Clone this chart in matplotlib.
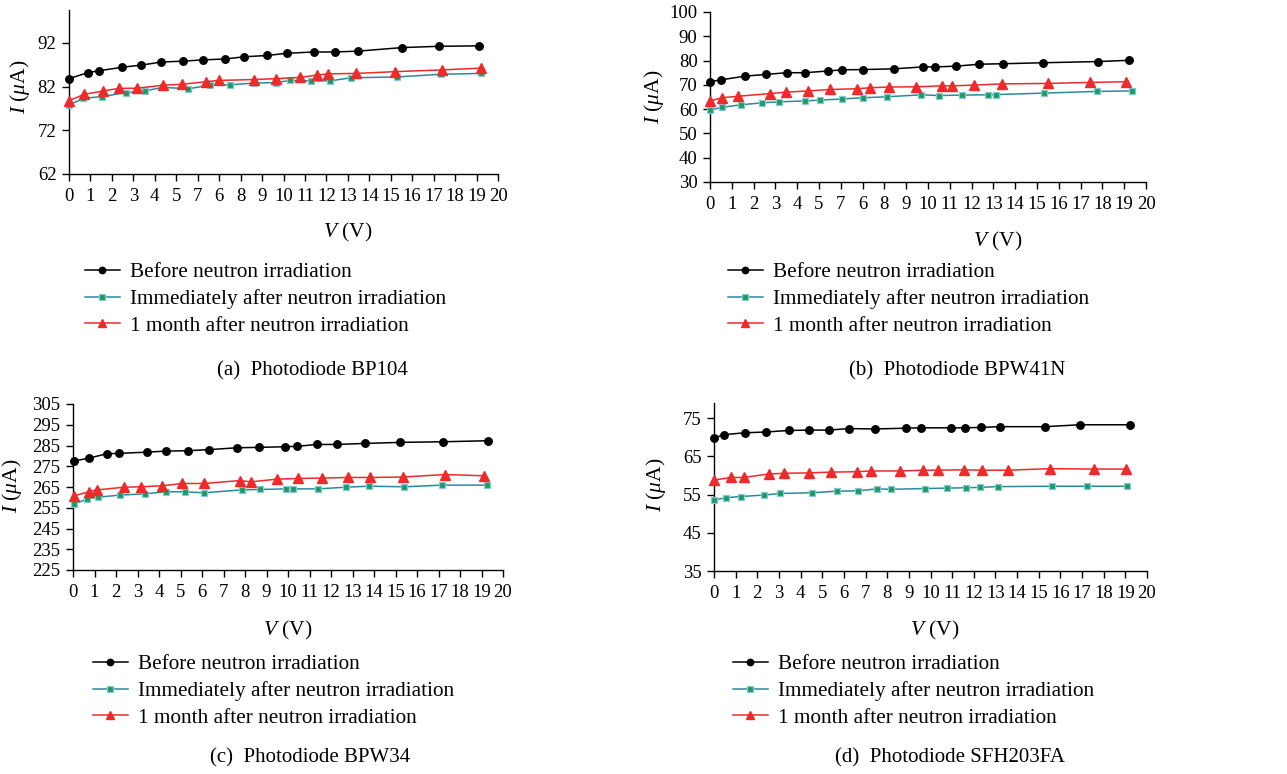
import matplotlib.pyplot as plt
from matplotlib.lines import Line2D

plt.rcParams['font.family'] = ['Liberation Serif', 'DejaVu Serif']
plt.rcParams['mathtext.fontset'] = 'custom'
plt.rcParams['mathtext.rm'] = 'Liberation Serif'
plt.rcParams['mathtext.it'] = 'Liberation Serif:italic'

# ---- data ----
series_names = ["Before neutron irradiation",
                "Immediately after neutron irradiation",
                "1 month after neutron irradiation"]

# (a) BP104
bp104_v_before = [0, 0.89, 1.40, 2.46, 3.37, 4.30, 5.30, 6.26, 7.29, 8.16, 9.23, 10.15, 11.41, 12.40, 13.49, 15.51, 17.23, 19.10]
bp104_i_before = [83.8, 85.2, 85.6, 86.4, 86.9, 87.6, 87.8, 88.1, 88.3, 88.8, 89.1, 89.6, 89.9, 89.9, 90.1, 90.9, 91.2, 91.3]
bp104_v_after = [0.02, 0.67, 1.54, 2.64, 3.53, 4.37, 5.56, 6.57, 7.51, 8.64, 9.65, 10.31, 11.27, 12.17, 13.15, 15.3, 17.33, 19.21]
bp104_i_after = [77.8, 79.3, 79.7, 80.6, 81.0, 81.8, 81.5, 82.3, 82.4, 82.8, 82.9, 83.4, 83.3, 83.3, 84.0, 84.2, 84.8, 85.0]
bp104_v_month = [0.02, 0.70, 1.60, 2.35, 3.17, 4.37, 5.25, 6.37, 6.99, 8.63, 9.65, 10.77, 11.54, 12.07, 13.38, 15.2, 17.37, 19.19]
bp104_i_month = [78.8, 80.2, 81.0, 81.6, 81.6, 82.3, 82.5, 83.1, 83.4, 83.6, 83.8, 84.1, 84.6, 84.9, 85.0, 85.4, 85.8, 86.2]

# (b) BPW41N
bpw41n_v_before = [0, 0.52, 1.62, 2.57, 3.52, 4.36, 5.40, 6.07, 7.02, 8.43, 9.79, 10.34, 11.29, 12.35, 13.46, 15.27, 17.81, 19.2]
bpw41n_i_before = [71.3, 72.1, 73.6, 74.3, 75.0, 75.0, 75.7, 76.2, 76.3, 76.6, 77.4, 77.4, 77.7, 78.5, 78.7, 79.1, 79.6, 80.1]
bpw41n_v_after = [0, 0.57, 1.44, 2.37, 3.18, 4.36, 5.05, 6.07, 7.04, 8.13, 9.69, 10.5, 11.55, 12.75, 13.13, 15.3, 17.76, 19.34]
bpw41n_i_after = [59.6, 60.8, 61.8, 62.6, 63.0, 63.4, 63.7, 64.2, 64.7, 65.1, 65.9, 65.6, 65.8, 65.9, 66.0, 66.6, 67.3, 67.5]
bpw41n_v_month = [0, 0.57, 1.28, 2.74, 3.49, 4.51, 5.52, 6.76, 7.34, 8.20, 9.47, 10.63, 11.12, 12.11, 13.41, 15.49, 17.44, 19.1]
bpw41n_i_month = [63.4, 64.7, 65.3, 66.4, 67.0, 67.5, 68.1, 68.4, 68.8, 69.1, 69.2, 69.6, 69.6, 69.9, 70.4, 70.6, 71.0, 71.3]

# (c) BPW34
bpw34_v_before = [0.03, 0.73, 1.57, 2.12, 3.43, 4.33, 5.37, 6.31, 7.62, 8.64, 9.88, 10.41, 11.34, 12.29, 13.58, 15.22, 17.21, 19.29]
bpw34_i_before = [277.5, 278.9, 281.0, 281.2, 281.8, 282.3, 282.5, 283.0, 283.9, 284.1, 284.4, 284.6, 285.5, 285.5, 286.0, 286.5, 286.8, 287.3]
bpw34_v_after = [0.03, 0.67, 1.15, 2.19, 3.34, 4.32, 5.21, 6.07, 7.84, 8.72, 9.91, 10.21, 11.4, 12.69, 13.76, 15.4, 17.17, 19.27]
bpw34_i_after = [256.7, 259.3, 260.1, 261.1, 261.7, 262.7, 262.7, 262.2, 263.6, 263.8, 264.1, 264.1, 264.1, 264.9, 265.4, 265.1, 265.9, 265.9]
bpw34_v_month = [0.03, 0.73, 1.11, 2.38, 3.17, 4.16, 5.09, 6.11, 7.76, 8.27, 9.50, 10.46, 11.59, 12.80, 13.81, 15.33, 17.30, 19.13]
bpw34_i_month = [260.7, 262.7, 263.6, 264.9, 265.1, 265.6, 266.7, 266.7, 268.1, 267.5, 268.8, 269.1, 269.3, 269.6, 269.6, 269.8, 271.0, 270.4]

# (d) SFH203FA
sfh_v_before = [0, 0.45, 1.42, 2.38, 3.45, 4.37, 5.29, 6.22, 7.45, 8.85, 9.58, 10.94, 11.58, 12.31, 13.2, 15.31, 16.89, 19.2]
sfh_i_before = [69.8, 70.7, 71.2, 71.4, 71.8, 71.9, 71.9, 72.3, 72.2, 72.4, 72.5, 72.5, 72.5, 72.6, 72.8, 72.8, 73.3, 73.3]
sfh_v_after = [0, 0.57, 1.23, 2.32, 3.06, 4.54, 5.66, 6.65, 7.51, 8.18, 9.74, 10.74, 11.62, 12.28, 13.12, 15.6, 17.23, 19.08]
sfh_i_after = [53.6, 54.2, 54.5, 54.9, 55.3, 55.5, 55.9, 56.0, 56.5, 56.4, 56.6, 56.7, 56.8, 56.9, 57.1, 57.2, 57.2, 57.2]
sfh_v_month = [0, 0.77, 1.37, 2.52, 3.25, 4.38, 5.40, 6.6, 7.26, 8.6, 9.66, 10.35, 11.55, 12.37, 13.57, 15.51, 17.55, 19.05]
sfh_i_month = [58.8, 59.5, 59.5, 60.4, 60.6, 60.7, 60.9, 61.0, 61.2, 61.2, 61.4, 61.4, 61.5, 61.4, 61.4, 61.8, 61.7, 61.7]

# tick labels (panels a and b print 7 before 6 in the original)
xticklabels_swapped = ['0', '1', '2', '3', '4', '5', '7', '6', '8', '9', '10',
                       '11', '12', '13', '14', '15', '16', '17', '18', '19', '20']
xticklabels_plain = [str(i) for i in range(21)]
yticks_a = [62, 72, 82, 92]
yticks_b = [30, 40, 50, 60, 70, 80, 90, 100]
yticks_c = [225, 235, 245, 255, 265, 275, 285, 295, 305]
yticks_d = [35, 45, 55, 65, 75]

captions = ["(a)  Photodiode BP104", "(b)  Photodiode BPW41N",
            "(c)  Photodiode BPW34", "(d)  Photodiode SFH203FA"]

# ---- styles ----
BLACK = '#000000'
TEAL = '#2a8a9c'
SQ_FACE = '#1e9a58'
SQ_EDGE = '#86c6de'
RED = '#ee2a2a'

styles = [
    dict(color=BLACK, marker='o', markersize=5.4, markerfacecolor=BLACK, markeredgecolor=BLACK),
    dict(color=TEAL, marker='s', markersize=4.8, markerfacecolor=SQ_FACE, markeredgecolor=SQ_EDGE, markeredgewidth=0.9),
    dict(color=RED, marker='^', markersize=6.8, markerfacecolor=RED, markeredgecolor=RED),
]

W, H = 1287, 774
fig = plt.figure(figsize=(W / 100, H / 100), dpi=100)


def px_axes(left, top, right, bottom):
    return fig.add_axes([left / W, 1 - bottom / H, (right - left) / W, (bottom - top) / H])


def draw_panel(ax, data, ylim, yticks, xticklabels, ylab_x, ylab_y, xlab_x, xlab_y):
    for (v, i), st in zip(data, styles):
        ax.plot(v, i, linewidth=1.1, clip_on=False, zorder=3, **st)
    ax.set_xlim(0, 20)
    ax.set_ylim(*ylim)
    ax.set_xticks(range(21))
    ax.set_xticklabels(xticklabels)
    ax.set_yticks(yticks)
    for s in ['top', 'right']:
        ax.spines[s].set_visible(False)
    for s in ['left', 'bottom']:
        ax.spines[s].set_linewidth(1.0)
    ax.tick_params(direction='out', length=5, width=1.0, labelsize=13.5)
    ax.tick_params(axis='x', pad=5)
    ax.tick_params(axis='y', pad=4)
    ax.set_ylabel(r'$I$ ($\mu$A)', fontsize=15.5)
    ax.set_xlabel(r'$V$ (V)', fontsize=15.5)
    ax.yaxis.set_label_coords(ylab_x, ylab_y)
    ax.xaxis.set_label_coords(xlab_x, xlab_y)


ax_a = px_axes(69, 10, 498, 174)
draw_panel(ax_a, [(bp104_v_before, bp104_i_before), (bp104_v_after, bp104_i_after),
                  (bp104_v_month, bp104_i_month)],
           (62, 99.5), yticks_a, xticklabels_swapped, -0.086, 0.53, 0.65, -0.285)

ax_b = px_axes(710, 12, 1146, 182)
draw_panel(ax_b, [(bpw41n_v_before, bpw41n_i_before), (bpw41n_v_after, bpw41n_i_after),
                  (bpw41n_v_month, bpw41n_i_month)],
           (30, 100), yticks_b, xticklabels_swapped, -0.10, 0.5, 0.66, -0.28)

ax_c = px_axes(73, 404, 503, 570)
draw_panel(ax_c, [(bpw34_v_before, bpw34_i_before), (bpw34_v_after, bpw34_i_after),
                  (bpw34_v_month, bpw34_i_month)],
           (225, 305), yticks_c, xticklabels_plain, -0.114, 0.51, 0.50, -0.295)

ax_d = px_axes(714, 403, 1147, 571)
draw_panel(ax_d, [(sfh_v_before, sfh_i_before), (sfh_v_after, sfh_i_after),
                  (sfh_v_month, sfh_i_month)],
           (35, 79), yticks_d, xticklabels_plain, -0.106, 0.51, 0.51, -0.285)

# legends and captions below each panel
handles = [Line2D([], [], linewidth=1.1, **st) for st in styles]
for st_h in handles:
    st_h.set_markersize(st_h.get_markersize() * 0.85)

legend_pos = [(85, 299), (728, 299), (93, 691), (733, 691)]
caption_pos = [(312, 371), (957, 371), (310, 758), (950, 758)]
for (lx, ly), (cx, cy), cap in zip(legend_pos, caption_pos, captions):
    fig.legend(handles, series_names, loc='center left',
               bbox_to_anchor=(lx / W, 1 - ly / H), frameon=False,
               borderpad=0, borderaxespad=0, fontsize=15.3,
               handlelength=1.63, handletextpad=0.48, labelspacing=0.33)
    fig.text(cx / W, 1 - cy / H, cap, ha='center', va='center', fontsize=15)

fig.savefig('out.png', dpi=100)
